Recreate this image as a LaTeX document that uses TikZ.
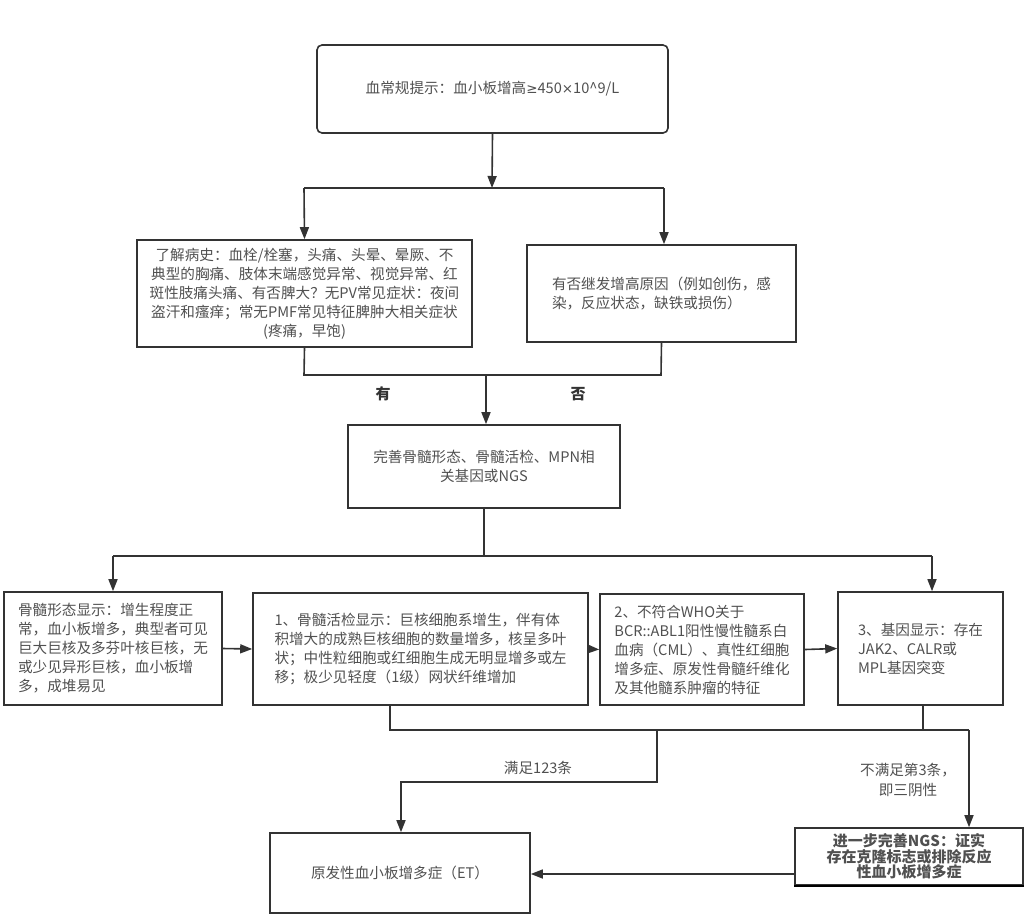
\documentclass[tikz,border=0pt]{standalone}
\usepackage{fontspec}
\setmainfont{Noto Sans CJK SC}
\newfontfamily\symf{DejaVu Sans}
\usetikzlibrary{arrows.meta}
\definecolor{linec}{HTML}{333333}
\definecolor{txtc}{HTML}{505050}
\begin{document}
\begin{tikzpicture}[x=1pt, y=-1pt,
  box/.style={draw=linec, line width=1.6pt, inner sep=4pt, text=txtc,
    font=\fontsize{14.6}{19}\selectfont},
  arr/.style={draw=linec, line width=1.6pt, -{Triangle[length=12pt,width=9pt]}},
  ln/.style={draw=linec, line width=1.6pt},
  lab/.style={text=txtc, font=\fontsize{14.6}{20}\selectfont, align=center}]
\useasboundingbox (0,0) rectangle (1024,918);
\node[box, rounded corners=5pt, minimum width=351, minimum height=88] (top) at (492.5,89) {血常规提示：血小板增高{\symf\fontsize{13.5}{19}\selectfont ≥}450{\symf\fontsize{13.5}{19}\selectfont ×}10\^{}9/L};
\node[box, align=center, minimum width=335, minimum height=107] (hist) at (304.5,293.5) {了解病史：血栓/栓塞，头痛、头晕、晕厥、不\\典型的胸痛、肢体末端感觉异常、视觉异常、红\\斑性肢痛头痛、有否脾大？无PV常见症状：夜间\\盗汗和瘙痒；常无PMF常见特征脾肿大相关症状\\(疼痛，早饱)};
\node[box, align=left, minimum width=269, minimum height=97] (sec) at (661.5,293.5) {有否继发增高原因（例如创伤，感\\染，反应状态，缺铁或损伤）};
\node[box, align=center, minimum width=272, minimum height=83] (exam) at (484,466.5) {完善骨髓形态、骨髓活检、MPN相\\关基因或NGS};
\node[box, align=left, minimum width=218, minimum height=113] (morph) at (113,648.5) {骨髓形态显示：增生程度正\\常，血小板增多，典型者可见\\巨大巨核及多芬叶核巨核，无\\或少见异形巨核，血小板增\\多，成堆易见};
\node[box, align=left, minimum width=335, minimum height=112] (biopsy) at (420.5,649) {1、骨髓活检显示：巨核细胞系增生，伴有体\\积增大的成熟巨核细胞的数量增多，核呈多叶\\状；中性粒细胞或红细胞生成无明显增多或左\\移；极少见轻度（1级）网状纤维增加};
\node[box, align=left, minimum width=204, minimum height=111] (who) at (702,649.5) {2、不符合WHO关于\\BCR::ABL1阳性慢性髓系白\\血病（CML）、真性红细胞\\增多症、原发性骨髓纤维化\\及其他髓系肿瘤的特征};
\node[box, align=left, minimum width=165, minimum height=113] (gene) at (920.5,648.5) {3、基因显示：存在\\JAK2、CALR或\\MPL基因突变};
\node[box, minimum width=260, minimum height=80] (et) at (400,873) {原发性血小板增多症（ET）};
\node[box, align=center, minimum width=228, minimum height=57, inner sep=1pt,
  font=\fontsize{15}{15.5}\selectfont\bfseries] (ngs) at (909,856.5) {进一步完善NGS：证实\\存在克隆标志或排除反应\\性血小板增多症};

\coordinate (s1) at (492,188);
\coordinate (s2) at (304,188);
\coordinate (s3) at (664,188);
\coordinate (j1) at (304,375);
\coordinate (j2) at (661,375);
\coordinate (j3) at (486,375);
\coordinate (k1) at (484,556);
\coordinate (k2) at (113,556);
\coordinate (k3) at (932,556);
\coordinate (m1) at (390,730);
\coordinate (m2) at (969,730);
\coordinate (m3) at (923,730);
\coordinate (m4) at (657,730);
\coordinate (m5) at (657,782);
\coordinate (m6) at (401,782);
\coordinate (n1) at (796,874);

\draw[arr] (top.south) -- (s1);
\draw[ln] (s2) -- (s3);
\draw[arr] (s2) -- (hist.north);
\draw[arr] (s3) -- (s3 |- sec.north);
\draw[ln] (hist.south) -- (j1) -- (j2) -- (sec.south);
\draw[arr] (j3) -- (j3 |- exam.north);
\draw[ln] (exam.south) -- (k1);
\draw[ln] (k2) -- (k3);
\draw[arr] (k2) -- (morph.north);
\draw[arr] (k3) -- (k3 |- gene.north);
\foreach \a/\b in {morph/biopsy, biopsy/who, who/gene}{
\draw[arr] (\a.east) -- (\b.west);
}
\draw[ln] (m1 |- biopsy.south) -- (m1) -- (m2);
\draw[ln] (m3 |- gene.south) -- (m3);
\draw[arr] (m4) -- (m5) -- (m6) -- (m6 |- et.north);
\draw[arr] (m2) -- (m2 |- ngs.north);
\draw[arr] (n1) -- (n1 -| et.east);
\draw[line width=2.4pt] (ngs.south west) -- (ngs.south east);

\node[text=linec, font=\fontsize{15}{15}\selectfont\bfseries] (yes) at (383,394) {有};
\node[text=linec, font=\fontsize{15}{15}\selectfont\bfseries] (no) at (578,394) {否};
\node[lab] (ok) at (538,768) {满足123条};
\node[lab] (notok) at (908,780) {不满足第3条，\\即三阴性};
\end{tikzpicture}
\end{document}
